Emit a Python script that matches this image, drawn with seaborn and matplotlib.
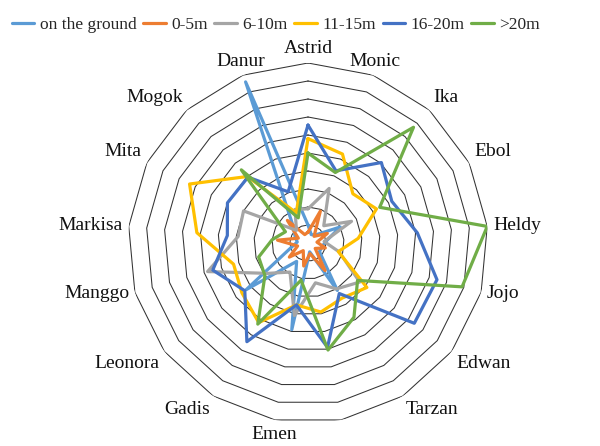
import numpy as np
import pandas as pd
import matplotlib
matplotlib.use("Agg")
import matplotlib.pyplot as plt
import seaborn as sns

# Trees per tree and height class of nest (radar chart)
categories = ["Astrid", "Monic", "Ika", "Ebol", "Heldy", "Jojo", "Edwan", "Tarzan", "",
              "Emen", "Gadis", "Leonora", "Manggo", "Markisa", "Mita", "Mogok", "Danur"]

series_names = ["on the ground", "0-5m", "6-10m", "11-15m", "16-20m", ">20m"]

on_ground = [1.0, 0.5, 0.6, 2.0, 1.0, 0.8, 0.8, 3.1, 0.5, 4.9, 1.2, 4.3, 1.0, 0.6, 0.8, 1.2, 9.6]
h0_5 = [0.6, 1.9, 0.5, 1.2, 0.5, 1.0, 0.5, 1.8, 0.6, 1.3, 0.5, 1.3, 0.6, 1.7, 0.6, 1.7, 0.5]
h6_10 = [1.9, 3.25, 1.3, 2.7, 0.9, 1.8, 3.6, 3.0, 2.25, 4.1, 1.9, 2.8, 5.8, 3.9, 4.0, 0.95, 2.0]
h11_15 = [5.8, 5.3, 3.7, 4.25, 2.8, 1.75, 4.1, 3.6, 3.9, 3.5, 5.2, 4.6, 4.3, 6.2, 7.35, 5.0, 1.8]
h16_20 = [6.55, 4.3, 6.05, 5.2, 6.1, 7.45, 7.4, 3.3, 5.9, 3.5, 6.45, 4.4, 5.5, 4.5, 5.0, 4.95, 3.05]
h20_up = [5.0, 4.2, 8.7, 4.45, 10.0, 8.9, 3.45, 4.85, 6.05, 2.1, 5.3, 3.0, 2.85, 2.0, 1.4, 5.5, 1.5]

grid_levels = list(range(1, 11))
colors = ["#5B9BD5", "#ED7D31", "#A5A5A5", "#FFC000", "#4472C4", "#70AD47"]

sns.set_theme(style="white")
plt.rcParams["font.family"] = ["Liberation Serif", "DejaVu Serif"]

n = len(categories)
theta = np.linspace(0, 2 * np.pi, n, endpoint=False)
theta_closed = np.append(theta, theta[0] + 2 * np.pi)

rows = []
for name, vals in zip(series_names, [on_ground, h0_5, h6_10, h11_15, h16_20, h20_up]):
    closed = list(vals) + [vals[0]]
    for t, v in zip(theta_closed, closed):
        rows.append({"theta": t, "value": v, "series": name})
df = pd.DataFrame(rows)

fig = plt.figure(figsize=(6.0, 4.46), dpi=100)
ax = fig.add_axes([128 / 600, 23 / 446, 360 / 600, 360 / 446], projection="polar")
ax.set_theta_zero_location("N")
ax.set_theta_direction(-1)

# polygon grid rings
for lvl in grid_levels:
    ax.plot(theta_closed, [lvl] * len(theta_closed), color="#333333", lw=0.75, zorder=1)

sns.lineplot(data=df, x="theta", y="value", hue="series", hue_order=series_names,
             palette=colors, sort=False, estimator=None, lw=2.3, ax=ax, legend=True,
             zorder=3)

ax.set_ylim(0, 10)
ax.set_xticks([])
ax.set_yticks([])
ax.grid(False)
ax.spines["polar"].set_visible(False)
ax.set_xlabel("")
ax.set_ylabel("")

# category labels just outside the outer ring
for t, lab in zip(theta, categories):
    s, c = np.sin(t), np.cos(t)
    ha = "left" if s > 0.4 else ("right" if s < -0.4 else "center")
    va = "bottom" if c > 0.3 else ("top" if c < -0.3 else "center")
    off = 6 * 0.72
    ax.annotate(lab, xy=(t, 10), xytext=(off * s, off * c), textcoords="offset points",
                ha=ha, va=va, fontsize=14, color="#111111", annotation_clip=False)

handles, labels = ax.get_legend_handles_labels()
ax.get_legend().remove()
fig.legend(handles, labels, loc="center left", bbox_to_anchor=(0.008, 0.944), ncol=6,
           frameon=False, fontsize=12.5, handlelength=1.3, handletextpad=0.3,
           columnspacing=0.4, borderaxespad=0)

fig.savefig("out.png", dpi=100)
